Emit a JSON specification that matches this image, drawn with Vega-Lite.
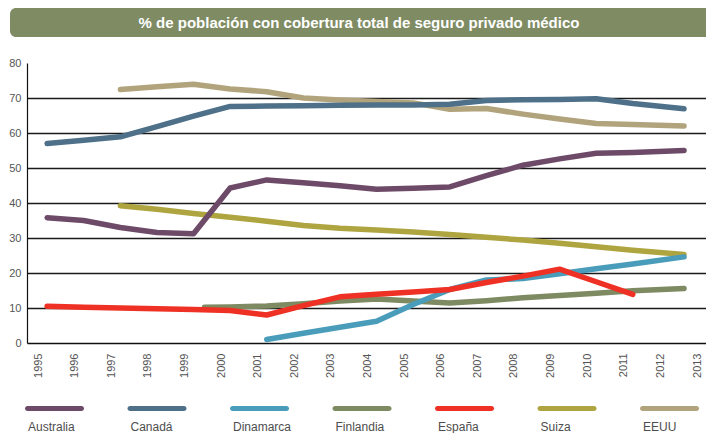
{
  "$schema": "https://vega.github.io/schema/vega-lite/v6.json",
  "background": "white",
  "padding": {"left": 8, "top": 8, "right": 0, "bottom": 0},
  "autosize": {"type": "pad"},
  "spacing": 20,
  "center": true,
  "config": {"view": {"stroke": null}, "font": "Liberation Sans"},
  "resolve": {"scale": {"x": "independent", "color": "shared"}},
  "datasets": {
    "cobertura": [
      {"pais": "Suiza", "anio": 1997, "valor": 39.2},
      {"pais": "Suiza", "anio": 1998, "valor": 38.2},
      {"pais": "Suiza", "anio": 1999, "valor": 37.0},
      {"pais": "Suiza", "anio": 2000, "valor": 35.9},
      {"pais": "Suiza", "anio": 2001, "valor": 34.8},
      {"pais": "Suiza", "anio": 2002, "valor": 33.6},
      {"pais": "Suiza", "anio": 2003, "valor": 32.8},
      {"pais": "Suiza", "anio": 2004, "valor": 32.3},
      {"pais": "Suiza", "anio": 2005, "valor": 31.7},
      {"pais": "Suiza", "anio": 2006, "valor": 31.0},
      {"pais": "Suiza", "anio": 2007, "valor": 30.2},
      {"pais": "Suiza", "anio": 2008, "valor": 29.4},
      {"pais": "Suiza", "anio": 2009, "valor": 28.5},
      {"pais": "Suiza", "anio": 2010, "valor": 27.5},
      {"pais": "Suiza", "anio": 2011, "valor": 26.5},
      {"pais": "Suiza", "anio": 2012.4, "valor": 25.3},
      {"pais": "EEUU", "anio": 1997, "valor": 72.4},
      {"pais": "EEUU", "anio": 1998, "valor": 73.2},
      {"pais": "EEUU", "anio": 1999, "valor": 73.9},
      {"pais": "EEUU", "anio": 2000, "valor": 72.6},
      {"pais": "EEUU", "anio": 2001, "valor": 71.8},
      {"pais": "EEUU", "anio": 2002, "valor": 70.0},
      {"pais": "EEUU", "anio": 2003, "valor": 69.4},
      {"pais": "EEUU", "anio": 2004, "valor": 69.0},
      {"pais": "EEUU", "anio": 2005, "valor": 68.6},
      {"pais": "EEUU", "anio": 2006, "valor": 66.8},
      {"pais": "EEUU", "anio": 2007, "valor": 67.0},
      {"pais": "EEUU", "anio": 2008, "valor": 65.4},
      {"pais": "EEUU", "anio": 2009, "valor": 64.0},
      {"pais": "EEUU", "anio": 2010, "valor": 62.7},
      {"pais": "EEUU", "anio": 2011, "valor": 62.4},
      {"pais": "EEUU", "anio": 2012.4, "valor": 62.0},
      {"pais": "Canadá", "anio": 1995, "valor": 57.0},
      {"pais": "Canadá", "anio": 1996, "valor": 57.9},
      {"pais": "Canadá", "anio": 1997, "valor": 58.9},
      {"pais": "Canadá", "anio": 1998, "valor": 61.8},
      {"pais": "Canadá", "anio": 1999, "valor": 64.8},
      {"pais": "Canadá", "anio": 2000, "valor": 67.6},
      {"pais": "Canadá", "anio": 2001, "valor": 67.7},
      {"pais": "Canadá", "anio": 2002, "valor": 67.8},
      {"pais": "Canadá", "anio": 2003, "valor": 67.9},
      {"pais": "Canadá", "anio": 2004, "valor": 68.0},
      {"pais": "Canadá", "anio": 2005, "valor": 68.0},
      {"pais": "Canadá", "anio": 2006, "valor": 68.2},
      {"pais": "Canadá", "anio": 2007, "valor": 69.3},
      {"pais": "Canadá", "anio": 2008, "valor": 69.5},
      {"pais": "Canadá", "anio": 2009, "valor": 69.6},
      {"pais": "Canadá", "anio": 2010, "valor": 69.8},
      {"pais": "Canadá", "anio": 2011, "valor": 68.4},
      {"pais": "Canadá", "anio": 2012.4, "valor": 66.9},
      {"pais": "Finlandia", "anio": 1999.3, "valor": 10.2},
      {"pais": "Finlandia", "anio": 2000, "valor": 10.3},
      {"pais": "Finlandia", "anio": 2001, "valor": 10.6},
      {"pais": "Finlandia", "anio": 2002, "valor": 11.2},
      {"pais": "Finlandia", "anio": 2003, "valor": 12.0},
      {"pais": "Finlandia", "anio": 2004, "valor": 12.6},
      {"pais": "Finlandia", "anio": 2005, "valor": 12.0},
      {"pais": "Finlandia", "anio": 2006, "valor": 11.4},
      {"pais": "Finlandia", "anio": 2007, "valor": 12.1},
      {"pais": "Finlandia", "anio": 2008, "valor": 12.9},
      {"pais": "Finlandia", "anio": 2009, "valor": 13.6},
      {"pais": "Finlandia", "anio": 2010, "valor": 14.2},
      {"pais": "Finlandia", "anio": 2011, "valor": 14.9},
      {"pais": "Finlandia", "anio": 2012.4, "valor": 15.6},
      {"pais": "Dinamarca", "anio": 2001, "valor": 1.0},
      {"pais": "Dinamarca", "anio": 2002, "valor": 2.8},
      {"pais": "Dinamarca", "anio": 2003, "valor": 4.5},
      {"pais": "Dinamarca", "anio": 2004, "valor": 6.2},
      {"pais": "Dinamarca", "anio": 2005, "valor": 11.0},
      {"pais": "Dinamarca", "anio": 2006, "valor": 15.3},
      {"pais": "Dinamarca", "anio": 2007, "valor": 18.0},
      {"pais": "Dinamarca", "anio": 2008, "valor": 18.4},
      {"pais": "Dinamarca", "anio": 2009, "valor": 19.8},
      {"pais": "Dinamarca", "anio": 2010, "valor": 21.2},
      {"pais": "Dinamarca", "anio": 2011, "valor": 22.6},
      {"pais": "Dinamarca", "anio": 2012.4, "valor": 24.6},
      {"pais": "Australia", "anio": 1995, "valor": 35.8},
      {"pais": "Australia", "anio": 1996, "valor": 35.0},
      {"pais": "Australia", "anio": 1997, "valor": 33.0},
      {"pais": "Australia", "anio": 1998, "valor": 31.6},
      {"pais": "Australia", "anio": 1999, "valor": 31.2},
      {"pais": "Australia", "anio": 2000, "valor": 44.3},
      {"pais": "Australia", "anio": 2001, "valor": 46.6},
      {"pais": "Australia", "anio": 2002, "valor": 45.8},
      {"pais": "Australia", "anio": 2003, "valor": 44.9},
      {"pais": "Australia", "anio": 2004, "valor": 43.9},
      {"pais": "Australia", "anio": 2005, "valor": 44.2},
      {"pais": "Australia", "anio": 2006, "valor": 44.6},
      {"pais": "Australia", "anio": 2007, "valor": 47.8},
      {"pais": "Australia", "anio": 2008, "valor": 50.8},
      {"pais": "Australia", "anio": 2009, "valor": 52.6},
      {"pais": "Australia", "anio": 2010, "valor": 54.2},
      {"pais": "Australia", "anio": 2011, "valor": 54.4},
      {"pais": "Australia", "anio": 2012.4, "valor": 55.0},
      {"pais": "España", "anio": 1995, "valor": 10.5},
      {"pais": "España", "anio": 1996, "valor": 10.2},
      {"pais": "España", "anio": 1997, "valor": 10.0},
      {"pais": "España", "anio": 1998, "valor": 9.8},
      {"pais": "España", "anio": 1999, "valor": 9.6},
      {"pais": "España", "anio": 2000, "valor": 9.3},
      {"pais": "España", "anio": 2001, "valor": 8.0},
      {"pais": "España", "anio": 2002, "valor": 10.7},
      {"pais": "España", "anio": 2003, "valor": 13.2},
      {"pais": "España", "anio": 2004, "valor": 13.9},
      {"pais": "España", "anio": 2005, "valor": 14.6},
      {"pais": "España", "anio": 2006, "valor": 15.3},
      {"pais": "España", "anio": 2007, "valor": 17.3},
      {"pais": "España", "anio": 2008, "valor": 19.1},
      {"pais": "España", "anio": 2009, "valor": 21.1},
      {"pais": "España", "anio": 2010, "valor": 17.5},
      {"pais": "España", "anio": 2011, "valor": 13.9}
    ]
  },
  "vconcat": [
    {
      "width": 713,
      "height": 29,
      "view": {"fill": "#7e8b63", "stroke": null, "cornerRadius": 6},
      "data": {"values": [{"titulo": "% de población con cobertura total de seguro privado médico"}]},
      "mark": {"type": "text", "color": "white", "font": "Liberation Sans", "fontWeight": "bold", "fontSize": 15, "dx": -7.5},
      "encoding": {"text": {"field": "titulo", "type": "nominal"}}
    },
    {
      "width": 679,
      "height": 280,
      "data": {"name": "cobertura"},
      "mark": {"type": "line", "strokeWidth": 5.5, "strokeCap": "round", "strokeJoin": "round"},
      "encoding": {
        "x": {
          "field": "anio",
          "type": "quantitative",
          "scale": {"domain": [1994.45, 2013], "nice": false, "zero": false},
          "axis": {
            "title": null,
            "values": [1995, 1996, 1997, 1998, 1999, 2000, 2001, 2002, 2003, 2004, 2005, 2006, 2007, 2008, 2009, 2010, 2011, 2012, 2013],
            "format": "d",
            "labelAngle": 270,
            "labelOffset": -9,
            "labelPadding": 10,
            "labelFontSize": 11,
            "labelColor": "#555555",
            "labelFlush": false,
            "labelOverlap": false,
            "labelBound": false,
            "ticks": false,
            "grid": false,
            "domain": true,
            "domainColor": "#111111",
            "domainWidth": 1.5
          }
        },
        "y": {
          "field": "valor",
          "type": "quantitative",
          "scale": {"domain": [0, 80], "nice": false},
          "axis": {
            "title": null,
            "values": [0, 10, 20, 30, 40, 50, 60, 70, 80],
            "labelFontSize": 11,
            "labelColor": "#555555",
            "labelPadding": 6,
            "ticks": false,
            "domain": true,
            "domainColor": "#111111",
            "domainWidth": 1.2,
            "grid": true,
            "gridColor": "#1a1a1a",
            "gridWidth": 1.5,
            "gridOpacity": {"condition": {"test": "datum.value === 80 || datum.value === 0", "value": 0}, "value": 1}
          }
        },
        "color": {
          "field": "pais",
          "type": "nominal",
          "scale": {
            "domain": ["Australia", "Canadá", "Dinamarca", "Finlandia", "España", "Suiza", "EEUU"],
            "range": ["#6e4a69", "#4e7189", "#4a9dba", "#7e8a62", "#ee3124", "#aea540", "#b1a37b"]
          },
          "legend": null
        }
      }
    },
    {
      "width": 679,
      "height": 21,
      "data": {"name": "cobertura"},
      "transform": [{"aggregate": [{"op": "count", "as": "n"}], "groupby": ["pais"]}],
      "encoding": {
        "x": {
          "field": "pais",
          "type": "nominal",
          "sort": ["Australia", "Canadá", "Dinamarca", "Finlandia", "España", "Suiza", "EEUU"],
          "scale": {"type": "point", "padding": 0.312, "align": 0.43},
          "axis": null
        }
      },
      "layer": [
        {
          "mark": {"type": "tick", "orient": "horizontal", "size": 59, "thickness": 5, "cornerRadius": 2.5, "opacity": 1},
          "encoding": {
            "color": {
              "field": "pais",
              "type": "nominal",
              "scale": {
                "domain": ["Australia", "Canadá", "Dinamarca", "Finlandia", "España", "Suiza", "EEUU"],
                "range": ["#6e4a69", "#4e7189", "#4a9dba", "#7e8a62", "#ee3124", "#aea540", "#b1a37b"]
              },
              "legend": null
            }
          }
        },
        {
          "mark": {"type": "text", "align": "left", "baseline": "alphabetic", "dx": -26.5, "dy": 22, "fontSize": 12, "color": "#4d4d4d"},
          "encoding": {"text": {"field": "pais", "type": "nominal"}}
        }
      ]
    }
  ]
}
